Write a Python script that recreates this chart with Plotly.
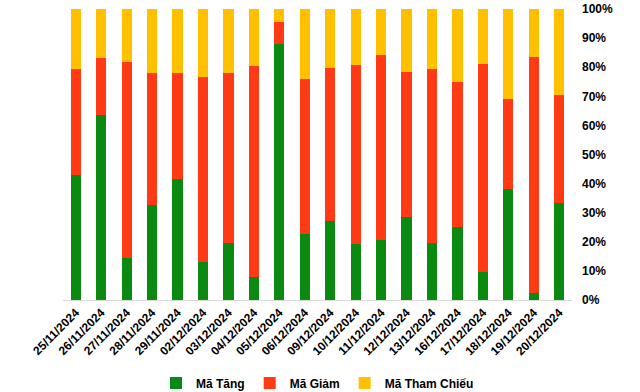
import plotly.graph_objects as go

dates = ["25/11/2024", "26/11/2024", "27/11/2024", "28/11/2024", "29/11/2024",
         "02/12/2024", "03/12/2024", "04/12/2024", "05/12/2024", "06/12/2024",
         "09/12/2024", "10/12/2024", "11/12/2024", "12/12/2024", "13/12/2024",
         "16/12/2024", "17/12/2024", "18/12/2024", "19/12/2024", "20/12/2024"]
ma_tang = [43.0, 63.6, 14.5, 32.6, 41.6, 13.2, 19.6, 7.9, 88.1, 22.7,
           27.1, 19.2, 20.6, 28.5, 19.6, 25.1, 9.6, 38.1, 2.4, 33.3]
ma_giam = [36.4, 19.6, 67.3, 45.4, 36.4, 63.4, 58.4, 72.5, 7.4, 53.2,
           52.6, 61.6, 63.6, 49.9, 59.8, 49.8, 71.5, 31.0, 81.1, 37.1]
ma_tham_chieu = [20.6, 16.8, 18.2, 22.0, 22.0, 23.4, 22.0, 19.6, 4.5, 24.1,
                 20.3, 19.2, 15.8, 21.6, 20.6, 25.1, 18.9, 30.9, 16.5, 29.6]
y_ticks = [0, 10, 20, 30, 40, 50, 60, 70, 80, 90, 100]
y_tick_labels = [f"{v}%" for v in y_ticks]

series = [("Mã Tăng", ma_tang, "#0B8A12"),
          ("Mã Giảm", ma_giam, "#FF3A14"),
          ("Mã Tham Chiếu", ma_tham_chieu, "#FFC000")]

fig = go.Figure()
for name, vals, color in series:
    fig.add_trace(go.Bar(x=dates, y=vals, name=name, marker_color=color,
                         marker_line_width=0))

fig.update_layout(
    barmode="stack",
    barnorm="percent",
    bargap=0.6,
    width=640, height=392,
    margin=dict(l=63, r=68, t=9, b=92, autoexpand=False),
    plot_bgcolor="white", paper_bgcolor="white",
    font=dict(family="Liberation Sans, Arial, sans-serif", size=12, color="black"),
    legend=dict(orientation="h", y=-0.285, yanchor="middle",
                x=0.5, xanchor="center", font=dict(size=12, weight="bold"),
                itemwidth=30, traceorder="normal"),
    showlegend=True,
)
fig.update_xaxes(type="category", tickangle=-45, showline=True, linecolor="#d9d9d9",
                 linewidth=1, showgrid=False, ticks="", automargin=False,
                 tickfont=dict(size=12, weight="bold", color="black"))
fig.update_yaxes(side="right", range=[0, 100], tickvals=y_ticks, ticktext=y_tick_labels,
                 showgrid=False, zeroline=False, showline=False, automargin=False,
                 ticklabelstandoff=9,
                 tickfont=dict(size=12, weight="bold", color="black"))

fig.write_html("out.html", config={"displayModeBar": False},
               post_script="document.body.style.margin='0';document.body.style.overflow='hidden';")
